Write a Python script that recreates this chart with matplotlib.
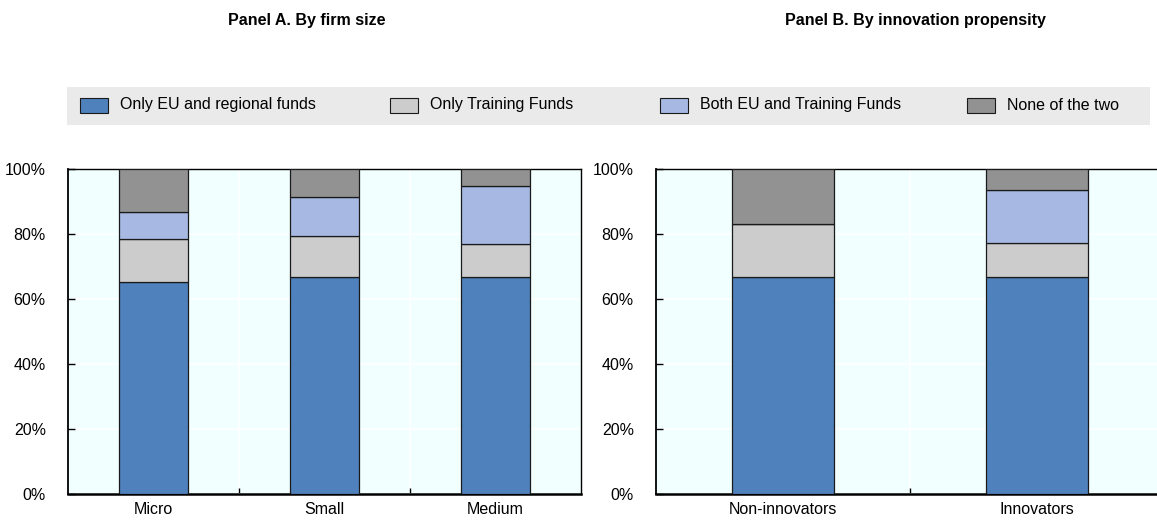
import matplotlib
matplotlib.use("Agg")
import matplotlib.pyplot as plt
from matplotlib.patches import Rectangle
from matplotlib.ticker import FixedLocator, PercentFormatter

plt.rcParams["font.family"] = ["Liberation Sans", "DejaVu Sans"]
plt.rcParams["font.size"] = 11.5

# shares in %
series_names = ["Only EU and regional funds", "Only Training Funds",
                "Both EU and Training Funds", "None of the two"]
colors = ["#4F81BD", "#CCCCCC", "#A7B9E3", "#929292"]

size_cats = ["Micro", "Small", "Medium"]
size_eu_only = [65.3, 66.9, 66.9]
size_tf_only = [13.1, 12.4, 9.9]
size_both = [8.3, 12.0, 18.1]
size_none = [13.3, 8.7, 5.1]

innov_cats = ["Non-innovators", "Innovators"]
innov_eu_only = [66.9, 66.7]
innov_tf_only = [16.2, 10.4]
innov_both = [0.0, 16.4]
innov_none = [16.9, 6.5]

W, H = 1157, 523
fig = plt.figure(figsize=(W / 100, H / 100), dpi=100)
bg = "#F2FFFF"


def px_axes(x0, x1, y0, y1):
    return fig.add_axes([x0 / W, 1 - y1 / H, (x1 - x0) / W, (y1 - y0) / H])


def draw_panel(ax, cats, stacks):
    x = list(range(len(cats)))
    bottom = [0.0] * len(cats)
    for vals, c in zip(stacks, colors):
        ax.bar(x, vals, width=0.4, bottom=bottom, color=c,
               edgecolor="#1a1a1a", linewidth=0.9, zorder=3)
        bottom = [b + v for b, v in zip(bottom, vals)]
    ax.set_facecolor(bg)
    ax.set_xlim(-0.5, len(cats) - 0.5)
    ax.set_ylim(0, 100)
    ax.yaxis.set_major_locator(FixedLocator([0, 20, 40, 60, 80, 100]))
    ax.yaxis.set_major_formatter(PercentFormatter(decimals=0))
    ax.xaxis.set_major_locator(FixedLocator([i + 0.5 for i in x[:-1]]))
    ax.xaxis.set_minor_locator(FixedLocator(x))
    ax.set_xticklabels([], minor=False)
    ax.set_xticklabels(cats, minor=True)
    ax.tick_params(axis="x", which="major", direction="in", length=4, width=1)
    ax.tick_params(axis="x", which="minor", length=0, pad=6)
    ax.tick_params(axis="y", direction="in", length=5, width=1, pad=16)
    ax.grid(True, which="major", color="white", linewidth=1.2, zorder=0)
    ax.set_axisbelow(True)
    for s in ["top", "right"]:
        ax.spines[s].set_linewidth(1.0)
    ax.spines["left"].set_linewidth(1.3)
    ax.spines["bottom"].set_linewidth(1.8)


ax1 = px_axes(68, 581, 169, 494)
draw_panel(ax1, size_cats, [size_eu_only, size_tf_only, size_both, size_none])

ax2 = px_axes(656, 1164, 169, 494)
draw_panel(ax2, innov_cats, [innov_eu_only, innov_tf_only, innov_both, innov_none])

fig.text(307 / W, 1 - 21 / H, "Panel A. By firm size", ha="center", va="center",
         fontweight="bold")
fig.text(915 / W, 1 - 21 / H, "Panel B. By innovation propensity", ha="center",
         va="center", fontweight="bold")

# legend band
fig.patches.append(Rectangle((67 / W, 1 - 125 / H), (1150 - 67) / W, 38 / H,
                             transform=fig.transFigure, facecolor="#EAEAEA",
                             edgecolor="none", zorder=0))
patch_x = [80, 390, 660, 967]
for name, c, px in zip(series_names, colors, patch_x):
    fig.patches.append(Rectangle((px / W, 1 - 113 / H), 28 / W, 15 / H,
                                 transform=fig.transFigure, facecolor=c,
                                 edgecolor="#1a1a1a", linewidth=0.8, zorder=1))
    fig.text((px + 40) / W, 1 - 105 / H, name, ha="left", va="center")

fig.savefig("out.png", dpi=100, facecolor="white")
